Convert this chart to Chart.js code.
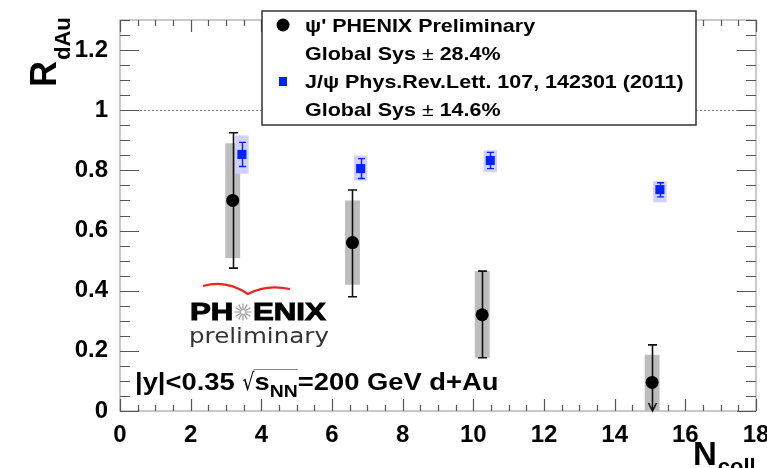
<!DOCTYPE html>
<html>
<head>
<meta charset="utf-8">
<script src="https://cdn.jsdelivr.net/npm/chart.js@4.4.1/dist/chart.umd.min.js"></script>
<style>
  html, body { margin: 0; padding: 0; background: #fff; }
  #wrap { width: 767px; height: 468px; position: relative; }
</style>
</head>
<body>
<div id="wrap"><canvas id="chart"></canvas></div>
<script>
// psi' PHENIX preliminary
const psiX = [3.19, 6.58, 10.25, 15.06];
const psiY = [0.70, 0.56, 0.32, 0.095];
const psiStatHi = [0.925, 0.735, 0.465, 0.22];
const psiStatLo = [0.475, 0.38, 0.177, 0];
const psiSysHi = [0.89, 0.70, 0.465, 0.187];
const psiSysLo = [0.508, 0.42, 0.177, 0];
const psiUpperLimit = [false, false, false, true];

// J/psi, Phys.Rev.Lett. 107, 142301 (2011)
const jpsiX = [3.45, 6.81, 10.48, 15.28];
const jpsiY = [0.853, 0.806, 0.833, 0.736];
const jpsiStatHi = [0.893, 0.839, 0.86, 0.759];
const jpsiStatLo = [0.813, 0.773, 0.806, 0.712];
const jpsiSysHi = [0.916, 0.849, 0.867, 0.764];
const jpsiSysLo = [0.789, 0.766, 0.794, 0.694];

const xTicks = [0, 2, 4, 6, 8, 10, 12, 14, 16, 18];
const yTicks = [0, 0.2, 0.4, 0.6, 0.8, 1, 1.2];

const BOLD = '"Liberation Sans", Arial, sans-serif';

// draw text with a horizontal stretch (the original figure is a bit wide)
function txt(ctx, s, x, y, font, opt = {}) {
    const sx = opt.sx || 1;
    ctx.save();
    ctx.font = font;
    ctx.fillStyle = opt.color || '#000';
    ctx.textBaseline = 'alphabetic';
    ctx.textAlign = 'left';
    ctx.translate(x, y);
    if (opt.rot) ctx.rotate(opt.rot);
    ctx.scale(sx, 1);
    ctx.fillText(s, 0, 0);
    if (opt.heavy) {
        ctx.strokeStyle = opt.color || '#000';
        ctx.lineWidth = opt.heavy;
        ctx.strokeText(s, 0, 0);
    }
    const w = ctx.measureText(s).width * sx;
    ctx.restore();
    return w;
}

function richLine(ctx, x, y, parts, sx) {
    let cx = x;
    parts.forEach(p => {
        cx += txt(ctx, p[0], cx, y + (p[2] || 0), p[1], { sx: sx, color: p[3] });
    });
    return cx;
}

const overlay = {
    id: 'overlay',
    beforeDatasetsDraw(chart) {
        const { ctx, chartArea: a, scales: { x, y } } = chart;
        ctx.save();

        // dotted line at R = 1
        ctx.strokeStyle = '#888';
        ctx.lineWidth = 1;
        ctx.setLineDash([2, 2]);
        ctx.beginPath();
        ctx.moveTo(a.left, Math.round(y.getPixelForValue(1)) + 0.5);
        ctx.lineTo(a.right, Math.round(y.getPixelForValue(1)) + 0.5);
        ctx.stroke();
        ctx.setLineDash([]);

        // frame
        ctx.strokeStyle = '#b8b8b8';
        ctx.lineWidth = 1.5;
        ctx.strokeRect(a.left, a.top, a.right - a.left, a.bottom - a.top);

        // inward ticks
        ctx.strokeStyle = '#555';
        ctx.lineWidth = 1.2;
        ctx.beginPath();
        for (let i = 0; i <= 26; i++) {
            const v = i * 0.05;
            const py = Math.round(y.getPixelForValue(v)) + 0.5;
            const len = i % 4 === 0 ? 19 : 10;
            ctx.moveTo(a.left, py); ctx.lineTo(a.left + len, py);
            ctx.moveTo(a.right, py); ctx.lineTo(a.right - len, py);
        }
        for (let i = 0; i <= 36; i++) {
            const v = i * 0.5;
            const px = Math.round(x.getPixelForValue(v)) + 0.5;
            const len = i % 4 === 0 ? 12 : 6;
            ctx.moveTo(px, a.bottom); ctx.lineTo(px, a.bottom - len);
            ctx.moveTo(px, a.top); ctx.lineTo(px, a.top + len);
        }
        ctx.stroke();

        // systematic boxes
        const box = (xs, lo, hi, hw, color) => {
            ctx.fillStyle = color;
            xs.forEach((xv, i) => {
                const l = x.getPixelForValue(xv - hw), r = x.getPixelForValue(xv + hw);
                const t = y.getPixelForValue(hi[i]), b = y.getPixelForValue(lo[i]);
                ctx.fillRect(l, t, r - l, b - t);
            });
        };
        box(psiX, psiSysLo, psiSysHi, 0.21, '#bdbdbd');
        box(jpsiX, jpsiSysLo, jpsiSysHi, 0.19, '#cfd1ff');

        // statistical error bars
        const bars = (xs, lo, hi, cap, color, lw, limit) => {
            ctx.strokeStyle = color;
            ctx.fillStyle = color;
            ctx.lineWidth = lw;
            xs.forEach((xv, i) => {
                const px = Math.round(x.getPixelForValue(xv)) + 0.5;
                const t = y.getPixelForValue(hi[i]), b = y.getPixelForValue(lo[i]);
                ctx.beginPath();
                ctx.moveTo(px, t); ctx.lineTo(px, b);
                ctx.moveTo(px - cap, t); ctx.lineTo(px + cap, t);
                if (limit && limit[i]) {
                    ctx.moveTo(px - 4, b - 8); ctx.lineTo(px, b); ctx.lineTo(px + 4, b - 8);
                } else {
                    ctx.moveTo(px - cap, b); ctx.lineTo(px + cap, b);
                }
                ctx.stroke();
            });
        };
        bars(psiX, psiStatLo, psiStatHi, 4.5, '#111', 1.6, psiUpperLimit);
        bars(jpsiX, jpsiStatLo, jpsiStatHi, 3.5, '#0022ff', 1.4);

        ctx.restore();
    },
    afterDraw(chart) {
        const ctx = chart.ctx;
        ctx.save();

        // legend
        ctx.fillStyle = '#fff';
        ctx.fillRect(262, 11, 434, 114);
        ctx.strokeStyle = '#333';
        ctx.lineWidth = 1.5;
        ctx.strokeRect(262, 11, 434, 114);
        ctx.fillStyle = '#000';
        ctx.beginPath();
        ctx.arc(283, 25, 6.5, 0, Math.PI * 2);
        ctx.fill();
        ctx.fillStyle = '#0022ff';
        ctx.fillRect(279, 77, 8, 9);

        const LB = 'bold 19px ' + BOLD, LN = '19px ' + BOLD;
        const ls = 1.13;
        richLine(ctx, 305, 32, [["ψ' PHENIX Preliminary", LB]], ls);
        richLine(ctx, 305, 60, [['Global Sys ', LB], ['±', LN], [' 28.4%', LB]], ls);
        richLine(ctx, 305, 88, [['J/ψ Phys.Rev.Lett. 107, 142301 (2011)', LB]], ls);
        richLine(ctx, 305, 116, [['Global Sys ', LB], ['±', LN], [' 14.6%', LB]], ls);

        // axis titles
        const rw = txt(ctx, 'R', 56, 87, 'bold 36px ' + BOLD, { rot: -Math.PI / 2 });
        txt(ctx, 'dAu', 70, 87 - rw - 1, 'bold 22px ' + BOLD, { rot: -Math.PI / 2 });
        const nw = txt(ctx, 'N', 693, 465, 'bold 33px ' + BOLD);
        txt(ctx, 'coll', 693 + nw + 1, 474, 'bold 22px ' + BOLD);

        // PHENIX preliminary logo
        ctx.strokeStyle = '#e8281e';
        ctx.lineWidth = 2.2;
        ctx.beginPath();
        ctx.moveTo(203, 286);
        ctx.quadraticCurveTo(226, 279, 248, 294);
        ctx.quadraticCurveTo(266, 284, 290, 289);
        ctx.stroke();
        txt(ctx, 'PH', 190, 320, 'bold 24px ' + BOLD, { sx: 1.3, heavy: 1 });
        ctx.strokeStyle = '#9a9a9a';
        ctx.lineWidth = 1.2;
        ctx.beginPath();
        for (let k = 0; k < 12; k++) {
            const ang = k * Math.PI / 6;
            ctx.moveTo(243 + Math.cos(ang) * 2, 312 + Math.sin(ang) * 2);
            ctx.lineTo(243 + Math.cos(ang) * 8.5, 312 + Math.sin(ang) * 8.5);
        }
        ctx.stroke();
        txt(ctx, 'ENIX', 253, 320, 'bold 24px ' + BOLD, { sx: 1.3, heavy: 1 });
        txt(ctx, 'preliminary', 189, 343, '21px "DejaVu Sans", sans-serif', { sx: 1.17, color: '#333' });

        // kinematics label
        const AB = 'bold 24px ' + BOLD;
        let cx = richLine(ctx, 135, 390, [['|y|<0.35 ', AB]], 1.14);
        cx = richLine(ctx, cx, 390, [['√', '24px "DejaVu Sans", sans-serif']], 0.8);
        const sStart = cx;
        cx = richLine(ctx, cx, 390, [['s', AB], ['NN', 'bold 17px ' + BOLD, 7]], 1.14);
        ctx.strokeStyle = '#666';
        ctx.lineWidth = 0.8;
        ctx.beginPath();
        ctx.moveTo(sStart - 1, 369.5); ctx.lineTo(cx, 369.5);
        ctx.stroke();
        richLine(ctx, cx, 390, [['=200 GeV d+Au', AB]], 1.14);

        ctx.restore();
    }
};

const tickFont = { family: BOLD, size: 24, weight: 'bold' };

new Chart(document.getElementById('chart'), {
    type: 'scatter',
    data: {
        datasets: [
            {
                label: "psi' PHENIX Preliminary",
                data: psiX.map((xv, i) => ({ x: xv, y: psiY[i] })),
                pointStyle: 'circle',
                pointRadius: 6.5,
                backgroundColor: '#000',
                borderWidth: 0
            },
            {
                label: 'J/psi PRL 107, 142301',
                data: jpsiX.map((xv, i) => ({ x: xv, y: jpsiY[i] })),
                pointStyle: 'rect',
                pointRadius: 6.4,
                backgroundColor: '#0022ff',
                borderWidth: 0
            }
        ]
    },
    options: {
        animation: false,
        responsive: true,
        maintainAspectRatio: false,
        layout: { padding: { top: 20, right: 11, left: 0, bottom: 0 } },
        plugins: { legend: { display: false }, tooltip: { enabled: false } },
        scales: {
            x: {
                type: 'linear', min: 0, max: 18,
                grid: { display: false }, border: { display: false },
                afterBuildTicks: s => { s.ticks = xTicks.map(v => ({ value: v })); },
                afterFit: s => { s.height = 57; s.paddingLeft = 0; s.paddingRight = 0; },
                ticks: { font: tickFont, color: '#000', padding: 2, maxRotation: 0, autoSkip: false }
            },
            y: {
                type: 'linear', min: 0, max: 1.3,
                grid: { display: false }, border: { display: false },
                afterBuildTicks: s => { s.ticks = yTicks.map(v => ({ value: v })); },
                afterFit: s => { s.width = 120; s.paddingTop = 0; s.paddingBottom = 0; },
                ticks: {
                    font: tickFont, color: '#000', padding: 4, autoSkip: false,
                    callback: v => String(Math.round(v * 10) / 10)
                }
            }
        }
    },
    plugins: [overlay]
});
</script>
</body>
</html>
